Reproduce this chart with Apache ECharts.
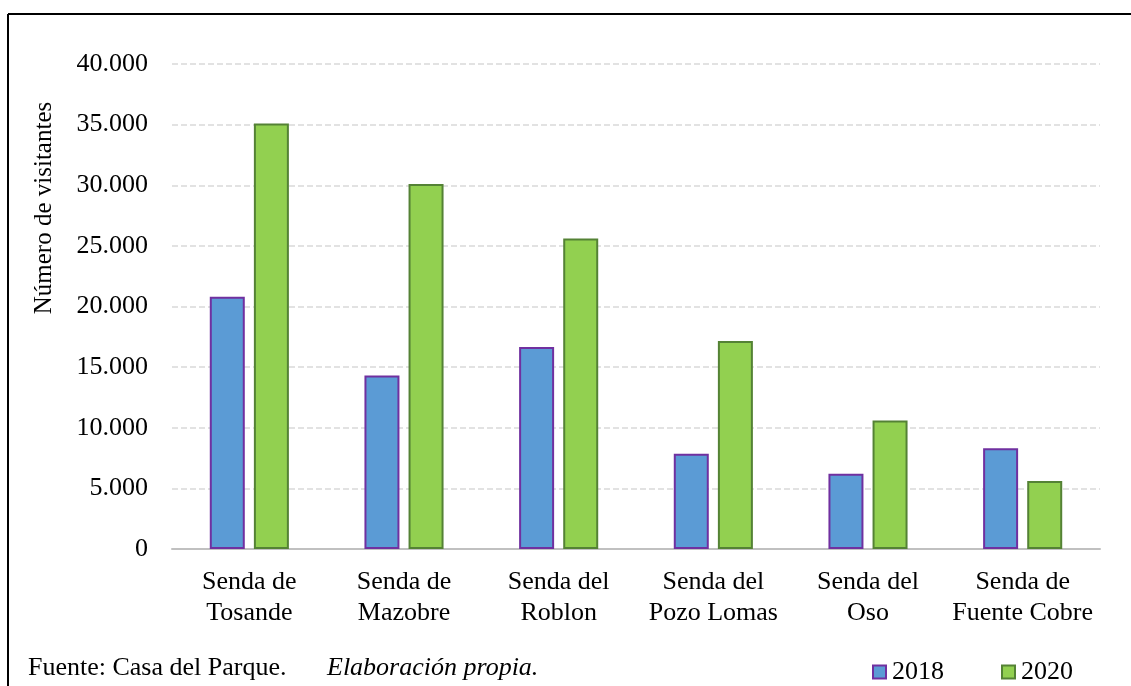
<!DOCTYPE html>
<html>
<head>
<meta charset="utf-8">
<script src="https://cdn.jsdelivr.net/npm/echarts@6/dist/echarts.min.js"></script>
<style>
  html, body { margin: 0; padding: 0; background: #fff; }
  #chart { width: 1131px; height: 686px; }
</style>
</head>
<body>
<div id="chart"></div>
<script>
// Visitantes por senda, 2018 y 2020
const categories = [
  'Senda de\nTosande',
  'Senda de\nMazobre',
  'Senda del\nRoblon',
  'Senda del\nPozo Lomas',
  'Senda del\nOso',
  'Senda de\nFuente Cobre'
];
const visitors2018 = [20800, 14300, 16650, 7850, 6200, 8300];
const visitors2020 = [35100, 30100, 25600, 17150, 10600, 5600];
const yTicks = { min: 0, max: 40000, interval: 5000 };

const FONT = '"Liberation Serif", "Times New Roman", serif';
const FS = 26;

const chart = echarts.init(document.getElementById('chart'), null, { renderer: 'canvas' });

// Miles con punto como separador (formato español)
const fmt = v => String(v).replace(/\B(?=(\d{3})+(?!\d))/g, '.');

chart.setOption({
  animation: false,
  backgroundColor: '#ffffff',
  textStyle: { fontFamily: FONT, color: '#000' },
  grid: { left: 172, right: 31, top: 64, bottom: 137, containLabel: false },
  legend: {
    right: 53,
    top: 654,
    itemWidth: 13,
    itemHeight: 13,
    itemGap: 57,
    icon: 'rect',
    textStyle: { fontFamily: FONT, fontSize: FS, color: '#000', padding: [0, 0, 0, 1] },
    data: ['2018', '2020']
  },
  xAxis: {
    type: 'category',
    data: categories,
    axisLine: { lineStyle: { color: '#c0c0c0', width: 2 } },
    axisTick: { show: false },
    axisLabel: {
      fontFamily: FONT, fontSize: FS, color: '#000',
      lineHeight: 31, margin: 18, interval: 0
    }
  },
  yAxis: {
    type: 'value',
    min: yTicks.min,
    max: yTicks.max,
    interval: yTicks.interval,
    axisLine: { show: false },
    axisTick: { show: false },
    splitLine: { lineStyle: { color: '#d9d9d9', type: [6, 3], width: 1.5 } },
    axisLabel: {
      fontFamily: FONT, fontSize: FS, color: '#000', margin: 24,
      formatter: v => fmt(v)
    }
  },
  series: [
    {
      name: '2018',
      type: 'bar',
      data: visitors2018,
      barWidth: 35,
      barGap: '26%',
      itemStyle: { color: '#5b9bd5', borderColor: '#7030a0', borderWidth: 2 }
    },
    {
      name: '2020',
      type: 'bar',
      data: visitors2020,
      barWidth: 35,
      itemStyle: { color: '#92d050', borderColor: '#548235', borderWidth: 2 }
    }
  ],
  graphic: [
    // marco superior e izquierdo
    { type: 'line', shape: { x1: 8, y1: 14, x2: 1131, y2: 14 }, style: { stroke: '#000', lineWidth: 2 } },
    { type: 'line', shape: { x1: 8, y1: 14, x2: 8, y2: 686 }, style: { stroke: '#000', lineWidth: 2 } },
    {
      type: 'text', x: 44, y: 208, rotation: Math.PI / 2,
      style: { text: 'Número de visitantes', font: '25px ' + FONT, fill: '#000', textAlign: 'center', textVerticalAlign: 'middle' }
    },
    {
      type: 'text', x: 28, y: 668,
      style: { text: 'Fuente: Casa del Parque.', font: FS + 'px ' + FONT, fill: '#000', textVerticalAlign: 'middle' }
    },
    {
      type: 'text', x: 327, y: 668,
      style: { text: 'Elaboración propia.', font: 'italic ' + FS + 'px ' + FONT, fill: '#000', textVerticalAlign: 'middle' }
    }
  ]
});
</script>
</body>
</html>
